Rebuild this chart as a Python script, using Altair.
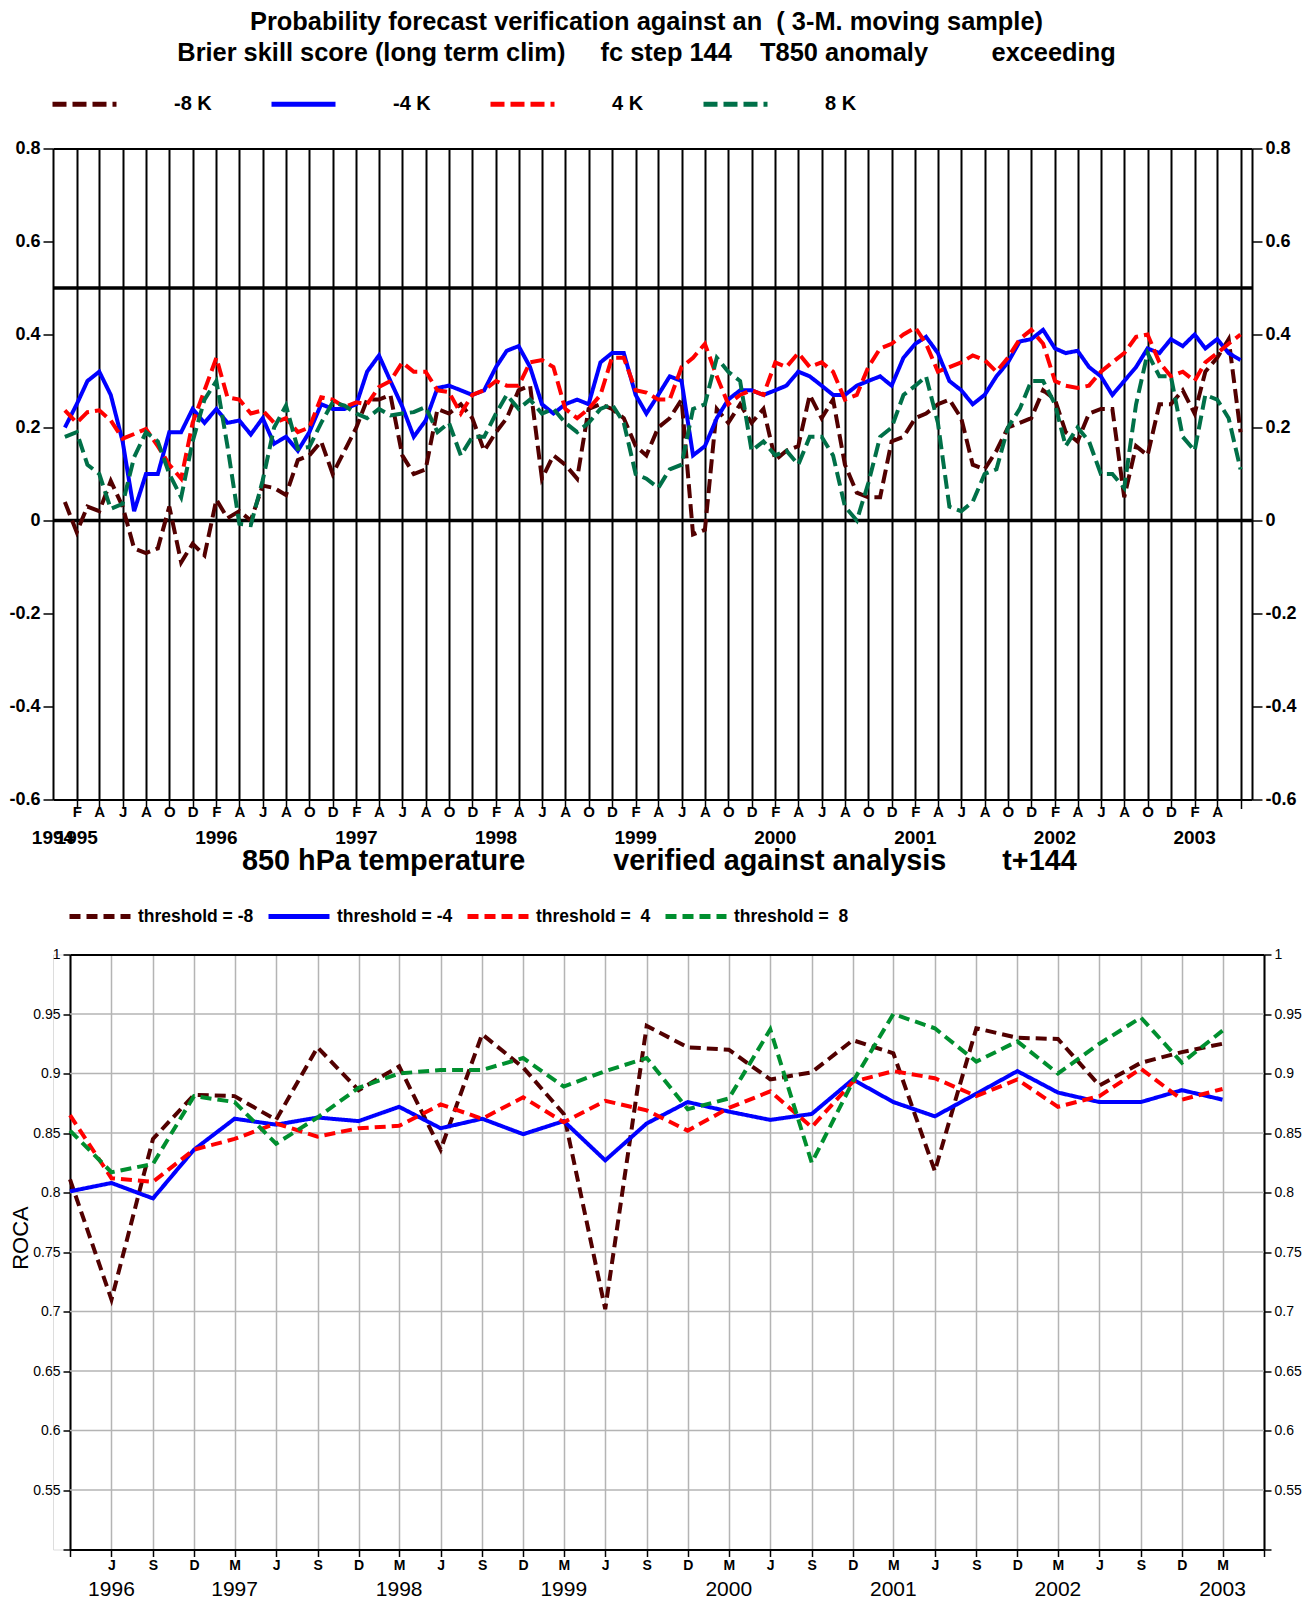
import altair as alt
import pandas as pd

FONT = "Liberation Sans"
NB = "\u00a0"

# ---------------- Brier skill score, monthly Jan 1995 .. Jun 2003 ----------------
bss_first_month = "1995-01-01"
bss_labels = ["-8 K", "-4 K", "4 K", "8 K"]
bss_colors = ["#520000", "#0000ff", "#ff0000", "#007048"]
bss_dashes = [[14, 6], [1, 0], [14, 6], [14, 6]]

bss_m8 = [0.04, -0.025, 0.03, 0.02, 0.085, 0.03, -0.06, -0.07, -0.06, 0.03, -0.09, -0.05,
          -0.075, 0.045, 0.005, 0.02, 0.0, 0.075, 0.07, 0.055, 0.13, 0.14, 0.17, 0.10,
          0.15, 0.20, 0.26, 0.26, 0.27, 0.14, 0.10, 0.11, 0.24, 0.23, 0.25, 0.22,
          0.15, 0.19, 0.22, 0.28, 0.29, 0.09, 0.14, 0.12, 0.09, 0.24, 0.25, 0.24,
          0.22, 0.16, 0.14, 0.20, 0.22, 0.26, -0.03, -0.02, 0.24, 0.21, 0.25, 0.21,
          0.24, 0.13, 0.15, 0.16, 0.27, 0.22, 0.26, 0.12, 0.06, 0.05, 0.05, 0.17,
          0.18, 0.22, 0.23, 0.25, 0.26, 0.22, 0.12, 0.11, 0.15, 0.20, 0.21, 0.22,
          0.28, 0.26, 0.19, 0.17, 0.23, 0.24, 0.24, 0.05, 0.16, 0.14, 0.25, 0.25,
          0.28, 0.23, 0.32, 0.35, 0.39, 0.19]
bss_m4 = [0.20, 0.25, 0.30, 0.32, 0.27, 0.17, 0.02, 0.10, 0.10, 0.19, 0.19, 0.24,
          0.21, 0.24, 0.21, 0.215, 0.185, 0.22, 0.165, 0.18, 0.15, 0.19, 0.25, 0.24,
          0.24, 0.25, 0.32, 0.355, 0.30, 0.245, 0.18, 0.215, 0.285, 0.29, 0.28, 0.27,
          0.28, 0.33, 0.365, 0.375, 0.33, 0.25, 0.23, 0.25, 0.26, 0.25, 0.34, 0.36,
          0.36, 0.27, 0.23, 0.27, 0.31, 0.30, 0.14, 0.16, 0.22, 0.26, 0.28, 0.28,
          0.27, 0.28, 0.29, 0.32, 0.31, 0.29, 0.27, 0.27, 0.29, 0.30, 0.31, 0.29,
          0.35, 0.38, 0.395, 0.36, 0.30, 0.28, 0.25, 0.27, 0.31, 0.34, 0.385, 0.39,
          0.41, 0.37, 0.36, 0.365, 0.33, 0.31, 0.27, 0.30, 0.33, 0.37, 0.36, 0.39,
          0.375, 0.40, 0.37, 0.39, 0.36, 0.345]
bss_p4 = [0.237, 0.21, 0.233, 0.237, 0.215, 0.176, 0.186, 0.197, 0.16, 0.12, 0.09, 0.21,
          0.28, 0.35, 0.265, 0.26, 0.23, 0.237, 0.21, 0.22, 0.19, 0.20, 0.265, 0.26,
          0.244, 0.254, 0.25, 0.287, 0.30, 0.34, 0.32, 0.32, 0.28, 0.276, 0.23, 0.27,
          0.28, 0.30, 0.29, 0.29, 0.34, 0.345, 0.33, 0.24, 0.22, 0.24, 0.27, 0.35,
          0.35, 0.28, 0.275, 0.26, 0.26, 0.33, 0.35, 0.38, 0.31, 0.25, 0.27, 0.28,
          0.27, 0.34, 0.33, 0.36, 0.33, 0.34, 0.32, 0.26, 0.27, 0.33, 0.37, 0.38,
          0.40, 0.415, 0.38, 0.32, 0.33, 0.34, 0.355, 0.345, 0.32, 0.35, 0.39, 0.41,
          0.38, 0.30, 0.29, 0.285, 0.29, 0.32, 0.34, 0.36, 0.395, 0.40, 0.34, 0.31,
          0.32, 0.30, 0.34, 0.36, 0.38, 0.40]
bss_p8 = [0.18, 0.19, 0.12, 0.10, 0.025, 0.036, 0.136, 0.19, 0.17, 0.10, 0.05, 0.17,
          0.26, 0.30, 0.16, -0.007, -0.01, 0.086, 0.20, 0.247, 0.154, 0.158, 0.21, 0.254,
          0.247, 0.23, 0.22, 0.24, 0.226, 0.23, 0.233, 0.244, 0.19, 0.21, 0.14, 0.18,
          0.18, 0.23, 0.27, 0.24, 0.26, 0.23, 0.24, 0.21, 0.19, 0.21, 0.24, 0.25,
          0.21, 0.10, 0.09, 0.07, 0.11, 0.12, 0.24, 0.25, 0.35, 0.32, 0.30, 0.15,
          0.17, 0.14, 0.15, 0.12, 0.18, 0.18, 0.14, 0.03, 0.00, 0.08, 0.18, 0.20,
          0.27, 0.29, 0.31, 0.21, 0.03, 0.02, 0.04, 0.10, 0.11, 0.20, 0.24, 0.30,
          0.30, 0.25, 0.16, 0.20, 0.17, 0.10, 0.10, 0.07, 0.25, 0.36, 0.31, 0.31,
          0.18, 0.15, 0.27, 0.26, 0.22, 0.11]

bss_years = ["1994", "1995", "1996", "1997", "1998", "1999", "2000", "2001", "2002", "2003"]
bss_year_pos = ["1994-12-01", "1995-02-01", "1996-02-01", "1997-02-01", "1998-02-01",
                "1999-02-01", "2000-02-01", "2001-02-01", "2002-02-01", "2003-02-01"]
bss_levels = [0.0, 0.5]
bss_yticks = [0.8, 0.6, 0.4, 0.2, 0.0, -0.2, -0.4, -0.6]

# ---------------- ROC area, quarterly Mar 1996 .. Mar 2003 ----------------
roc_first_quarter = "1996-03-01"
roc_labels = ["threshold = -8", "threshold = -4", "threshold = " + NB + "4", "threshold = " + NB + "8"]
roc_colors = ["#520000", "#0000ff", "#ff0000", "#008f2f"]
roc_dashes = [[11, 6], [1, 0], [11, 6], [11, 6]]

roc_m8 = [0.811, 0.710, 0.845, 0.882, 0.881, 0.861, 0.922, 0.886, 0.906, 0.836,
          0.933, 0.905, 0.866, 0.702, 0.940, 0.922, 0.920, 0.895, 0.901, 0.928,
          0.917, 0.818, 0.938, 0.930, 0.929, 0.890, 0.909, 0.918, 0.925]
roc_m4 = [0.801, 0.808, 0.795, 0.836, 0.862, 0.857, 0.863, 0.860, 0.872, 0.854,
          0.862, 0.849, 0.860, 0.827, 0.858, 0.876, 0.868, 0.861, 0.866, 0.895,
          0.876, 0.864, 0.883, 0.902, 0.884, 0.876, 0.876, 0.886, 0.878]
roc_p4 = [0.865, 0.812, 0.809, 0.836, 0.845, 0.858, 0.847, 0.854, 0.856, 0.874,
          0.862, 0.880, 0.859, 0.877, 0.869, 0.852, 0.871, 0.885, 0.855, 0.893,
          0.902, 0.896, 0.881, 0.895, 0.872, 0.881, 0.904, 0.878, 0.887]
roc_p8 = [0.852, 0.817, 0.824, 0.881, 0.876, 0.841, 0.863, 0.888, 0.900, 0.903,
          0.903, 0.913, 0.889, 0.902, 0.913, 0.870, 0.879, 0.937, 0.825, 0.893,
          0.950, 0.938, 0.910, 0.927, 0.900, 0.925, 0.947, 0.909, 0.936]

roc_years = ["1996", "1997", "1998", "1999", "2000", "2001", "2002", "2003"]
roc_year_pos = ["1996-06-01", "1997-03-01", "1998-03-01", "1999-03-01",
                "2000-03-01", "2001-03-01", "2002-03-01", "2003-03-01"]
roc_grid = [0.55, 0.6, 0.65, 0.7, 0.75, 0.8, 0.85, 0.9, 0.95]
roc_yticks = [1.0, 0.95, 0.9, 0.85, 0.8, 0.75, 0.7, 0.65, 0.6, 0.55, 0.5]


def utc_dt(stamp):
    t = pd.Timestamp(stamp)
    return alt.DateTime(year=t.year, month=t.month, date=t.day, utc=True)


def long_table(first, freq, labels, series, name):
    n = len(series[0])
    dates = pd.date_range(first, periods=n, freq=freq).strftime("%Y-%m-%d")
    rows = []
    for lab, vals in zip(labels, series):
        for d, v in zip(dates, vals):
            rows.append({"date": d, name: lab, "value": v})
    return pd.DataFrame(rows)


# ================= upper panel: Brier skill score =================
TOP_W, TOP_H = 1199, 651
bss = long_table(bss_first_month, "MS", bss_labels, [bss_m8, bss_m4, bss_p4, bss_p8], "series")

x_top = alt.Scale(type="utc", nice=False,
                  domain=[utc_dt("1994-12-01"), utc_dt("2003-07-01")])
y_top = alt.Scale(domain=[-0.6, 0.8], nice=False, zero=False)
top_ticks = [utc_dt(t) for t in pd.date_range("1995-02-01", "2003-06-01", freq="2MS")]

top_ylabel = "replace(format(datum.value, '.1~f'), '\u2212', '-')"
top_axis_y = dict(values=bss_yticks, labelExpr=top_ylabel, title=None, grid=False,
                  tickSize=10, labelPadding=3, labelFont=FONT, labelFontSize=18,
                  labelFontWeight="bold", labelColor="black", domainColor="black",
                  domainWidth=2, tickColor="black", tickWidth=1.5, labelOverlap=False,
                  labelFlush=False)

bss_legend = alt.Legend(
    title=None, orient="none", legendX=-3, legendY=-79, direction="horizontal",
    columns=4, symbolType="stroke", symbolSize=64 * 64, symbolStrokeWidth=5,
    labelFont=FONT, labelFontSize=20, labelFontWeight="bold", labelColor="black",
    labelOffset=55, columnPadding=49, labelLimit=300,
)

top_rules = alt.Chart(pd.DataFrame({"level": bss_levels})).mark_rule(
    color="black", strokeWidth=3.5
).encode(y=alt.Y("level:Q", scale=y_top, axis=None))

top_lines = alt.Chart(bss).mark_line(strokeWidth=4).encode(
    x=alt.X("date:T", scale=x_top, axis=alt.Axis(
        orient="bottom", values=top_ticks, title=None,
        labelExpr="datum.value >= utc(2003, 5, 1) ? '' : substring(utcFormat(datum.value, '%b'), 0, 1)",
        grid=True, gridColor="black", gridWidth=2, gridOpacity=1,
        tickSize=9, tickColor="black", tickWidth=1.5, labelPadding=-4,
        labelFont=FONT, labelFontSize=15, labelFontWeight="bold", labelColor="black",
        domainColor="black", domainWidth=2, labelOverlap=False, labelFlush=False)),
    y=alt.Y("value:Q", scale=y_top, axis=alt.Axis(orient="left", **top_axis_y)),
    color=alt.Color("series:N", scale=alt.Scale(domain=bss_labels, range=bss_colors),
                    legend=bss_legend),
    strokeDash=alt.StrokeDash("series:N", scale=alt.Scale(domain=bss_labels, range=bss_dashes),
                              legend=bss_legend),
)

top_frame = alt.Chart(bss).mark_point(opacity=0, size=0).encode(
    x=alt.X("date:T", scale=x_top, axis=alt.Axis(
        orient="top", labels=False, ticks=False, grid=False, title=None,
        domainColor="black", domainWidth=2)),
    y=alt.Y("value:Q", scale=y_top, axis=alt.Axis(orient="right", **top_axis_y)),
)

top_years = alt.Chart(pd.DataFrame({"year": bss_years, "date": bss_year_pos})).mark_text(
    font=FONT, fontSize=19, fontWeight="bold", baseline="middle", color="black"
).encode(x=alt.X("date:T", scale=x_top, axis=None), y=alt.value(TOP_H + 38), text="year:N")

top = alt.layer(top_rules, top_lines, top_frame, top_years).resolve_axis(
    x="independent", y="independent"
).properties(
    width=TOP_W, height=TOP_H,
    title=alt.Title(
        text=["Probability forecast verification against an" + NB + " ( 3-M. moving sample)",
              "Brier skill score (long term clim)" + NB * 4 + " fc step 144" + NB * 3
              + " T850 anomaly" + NB * 8 + " exceeding"],
        font=FONT, fontSize=25.4, fontWeight="bold", color="black",
        anchor="middle", frame="group", dx=-6, offset=3, lineHeight=31),
)

# ================= lower panel: ROC area =================
BOT_W, BOT_H = 1211, 595
SHIFT = 17
roc = long_table(roc_first_quarter, "3MS", roc_labels, [roc_m8, roc_m4, roc_p4, roc_p8], "threshold")

x_bot = alt.Scale(type="utc", nice=False, range=[SHIFT, BOT_W],
                  domain=[utc_dt("1996-03-01"), utc_dt("2003-06-01")])
y_bot = alt.Scale(domain=[0.5, 1.0], nice=False, zero=False)
bot_ticks = [utc_dt(t) for t in pd.date_range("1996-03-01", "2003-06-01", freq="3MS")]

bot_ylabel = "datum.value <= 0.5 ? '' : format(datum.value, '.2~f')"
bot_axis_y = dict(values=roc_yticks, labelExpr=bot_ylabel, grid=False, tickSize=7,
                  labelPadding=3, labelFont=FONT, labelFontSize=14, labelColor="black",
                  domainColor="black", domainWidth=2, tickColor="black", tickWidth=1.5,
                  labelOverlap=False, labelFlush=False)

roc_legend = alt.Legend(
    title=None, orient="none", legendX=14, legendY=-71, direction="horizontal",
    columns=4, symbolType="stroke", symbolSize=61 * 61, symbolStrokeWidth=5,
    labelFont=FONT, labelFontSize=17.5, labelFontWeight="bold", labelColor="black",
    labelOffset=5, columnPadding=4, labelLimit=300,
)

hgrid = pd.DataFrame({"level": roc_grid,
                      "start": ["1996-03-01"] * len(roc_grid),
                      "end": ["2003-06-01"] * len(roc_grid)})

bot_grid = alt.Chart(hgrid).mark_rule(color="#b4b4b4", strokeWidth=1.5).encode(
    x=alt.X("start:T", scale=x_bot, axis=alt.Axis(
        orient="top", labels=False, ticks=False, grid=False, title=None,
        domainColor="black", domainWidth=2)),
    x2="end:T",
    y=alt.Y("level:Q", scale=y_bot, axis=alt.Axis(orient="right", title=None, **bot_axis_y)),
)

bot_lines = alt.Chart(roc).mark_line(strokeWidth=4).encode(
    x=alt.X("date:T", scale=x_bot, axis=alt.Axis(
        orient="bottom", values=bot_ticks, title=None,
        labelExpr="(datum.value < utc(1996, 4, 1) || datum.value >= utc(2003, 5, 1)) ? '' : substring(utcFormat(datum.value, '%b'), 0, 1)",
        grid=True, gridColor="#b4b4b4", gridWidth=1.5, gridOpacity=1,
        tickSize=7, tickColor="black", tickWidth=1.5, labelPadding=2,
        labelFont=FONT, labelFontSize=14, labelFontWeight="bold", labelColor="black",
        domainColor="black", domainWidth=2, labelOverlap=False, labelFlush=False)),
    y=alt.Y("value:Q", scale=y_bot, axis=alt.Axis(
        orient="left", offset=-SHIFT, title="ROCA", titleFont=FONT, titleFontSize=22,
        titleFontWeight="normal", titleColor="black", titleAngle=270,
        titleX=-50, titleY=283, titleAlign="center", titleBaseline="middle",
        **bot_axis_y)),
    color=alt.Color("threshold:N", scale=alt.Scale(domain=roc_labels, range=roc_colors),
                    legend=roc_legend),
    strokeDash=alt.StrokeDash("threshold:N", scale=alt.Scale(domain=roc_labels, range=roc_dashes),
                              legend=roc_legend),
)

bot_years = alt.Chart(pd.DataFrame({"year": roc_years, "date": roc_year_pos})).mark_text(
    font=FONT, fontSize=21, baseline="middle", color="black"
).encode(x=alt.X("date:T", scale=x_bot, axis=None), y=alt.value(BOT_H + 40), text="year:N")

bottom = alt.layer(bot_grid, bot_lines, bot_years).resolve_axis(
    x="independent", y="independent"
).properties(
    width=BOT_W, height=BOT_H,
    title=alt.Title(
        text="850 hPa temperature" + NB * 11 + "verified against analysis" + NB * 7 + "t+144",
        font=FONT, fontSize=28.8, fontWeight="bold", color="black",
        anchor="start", frame="group", dx=189, offset=8),
)

chart = alt.vconcat(top, bottom, spacing=155, bounds="flush").resolve_scale(
    x="independent", y="independent", color="independent", strokeDash="independent"
).properties(
    padding={"left": 8, "top": 9.5, "right": 0, "bottom": 0}
).configure_view(stroke=None).configure(font=FONT)

chart.save("out.html", embed_options={"renderer": "svg", "actions": False})
